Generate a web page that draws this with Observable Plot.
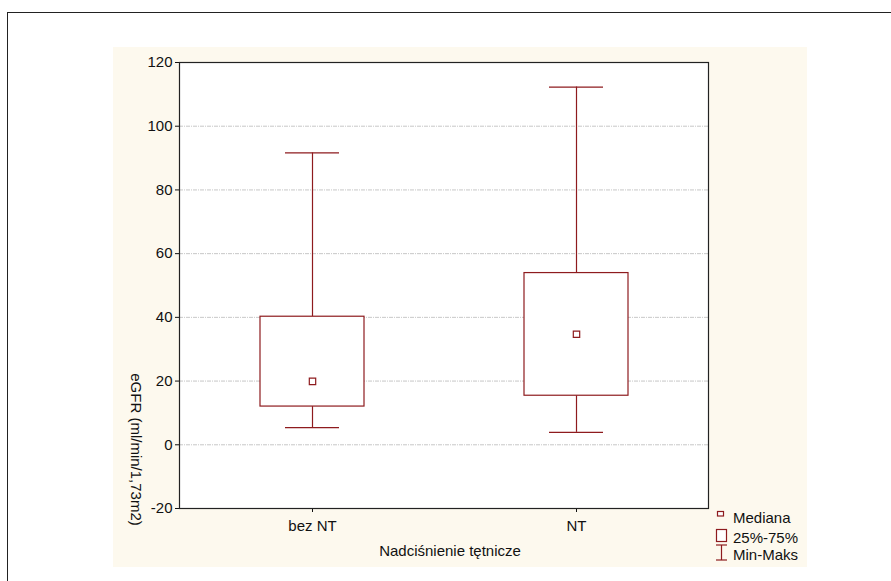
<!DOCTYPE html>
<html>
<head>
<meta charset="utf-8">
<script src="https://cdn.jsdelivr.net/npm/d3@7"></script>
<script src="https://cdn.jsdelivr.net/npm/@observablehq/plot@0.6"></script>
<style>
  html, body { margin: 0; padding: 0; background: #fff; }
  #wrap { position: relative; width: 891px; height: 581px; overflow: hidden; font-family: "Liberation Sans", Arial, sans-serif; }
  #outer { position: absolute; left: 7px; top: 12px; width: 950px; height: 650px; border: 1.5px solid #222; box-sizing: border-box; }
  #cream { position: absolute; left: 113px; top: 47px; width: 694px; height: 520px; background: #fdf9ee; }
  #chart { position: absolute; left: 0; top: 0; }
  #legend { position: absolute; left: 0; top: 0; }
</style>
</head>
<body>
<div id="wrap">
  <div id="outer"></div>
  <div id="cream"></div>
  <div id="chart"></div>
  <svg id="legend" width="891" height="581"></svg>
</div>
<script>
// Data
const groups = ["bez NT", "NT"];
const mins    = [5.4, 3.9];
const q1s     = [12.0, 15.4];
const medians = [19.9, 34.7];
const q3s     = [40.2, 53.9];
const maxs    = [91.6, 112.3];
const yTicks  = [-20, 0, 20, 40, 60, 80, 100, 120];
const yLabel  = "eGFR (ml/min/1,73m2)";
const xLabel  = "Nadciśnienie tętnicze";
const legendItems = ["Mediana", "25%-75%", "Min-Maks"];

const rows = groups.map((g, i) => ({g, min: mins[i], q1: q1s[i], median: medians[i], q3: q3s[i], max: maxs[i]}));
const red = "#8e1b1e";

const chart = Plot.plot({
  width: 891,
  height: 581,
  marginLeft: 179,
  marginRight: 183,
  marginTop: 62,
  marginBottom: 73,
  style: {background: "transparent", fontFamily: "'Liberation Sans', Arial, sans-serif", fontSize: "15px", color: "#111", overflow: "visible"},
  x: {domain: groups, padding: 0, label: null},
  y: {domain: [-20, 120], label: null},
  marks: [
    Plot.frame({fill: "white"}),
    Plot.gridY(yTicks.filter(d => d > -20 && d < 120), {stroke: "#999", strokeOpacity: 0.55, strokeDasharray: "4,1,1,1"}),
    Plot.axisY({ticks: yTicks, tickFormat: d => String(d), tickSize: 4, tickPadding: 3, label: null, fontSize: 15}),
    Plot.axisX({tickSize: 4, tickPadding: 8, label: null, fontSize: 15}),
    Plot.ruleX(rows, {x: "g", y1: "min", y2: "q1", stroke: red, strokeWidth: 1.2}),
    Plot.ruleX(rows, {x: "g", y1: "q3", y2: "max", stroke: red, strokeWidth: 1.2}),
    Plot.barY(rows, {x: "g", y1: "q1", y2: "q3", fill: "white", stroke: red, strokeWidth: 1.2, insetLeft: 80, insetRight: 80}),
    Plot.tickY(rows, {x: "g", y: "min", stroke: red, strokeWidth: 1.2, insetLeft: 105, insetRight: 105}),
    Plot.tickY(rows, {x: "g", y: "max", stroke: red, strokeWidth: 1.2, insetLeft: 105, insetRight: 105}),
    Plot.dot(rows, {x: "g", y: "median", symbol: "square", r: 3.6, stroke: red, strokeWidth: 1.2, fill: "white"}),
    Plot.frame({stroke: "#222", strokeWidth: 1.2}),
    Plot.text([yLabel], {frameAnchor: "left", textAnchor: "middle", dx: -44, dy: 164, rotate: 90, fontSize: 15, fill: "#111"}),
    Plot.text([xLabel], {frameAnchor: "bottom", dx: 6, dy: 47, fontSize: 15, fill: "#111"})
  ]
});
document.getElementById("chart").appendChild(chart);

// Legend
const lg = d3.select("#legend");
lg.append("rect").attr("x", 717.5).attr("y", 511.5).attr("width", 6).attr("height", 4.5)
  .attr("fill", "white").attr("stroke", red).attr("stroke-width", 1.2);
lg.append("rect").attr("x", 716.5).attr("y", 529.5).attr("width", 10).attr("height", 12)
  .attr("fill", "white").attr("stroke", red).attr("stroke-width", 1.2);
const wh = lg.append("g").attr("stroke", red).attr("stroke-width", 1.2);
wh.append("line").attr("x1", 721.5).attr("x2", 721.5).attr("y1", 545).attr("y2", 560);
wh.append("line").attr("x1", 716).attr("x2", 727).attr("y1", 545).attr("y2", 545);
wh.append("line").attr("x1", 716).attr("x2", 727).attr("y1", 560).attr("y2", 560);
const baselines = [523, 542.5, 560];
lg.selectAll("text.l").data(legendItems).join("text")
  .attr("x", 733).attr("y", (d, i) => baselines[i])
  .attr("font-family", "'Liberation Sans', Arial, sans-serif").attr("font-size", 15).attr("fill", "#111")
  .text(d => d);
</script>
</body>
</html>
